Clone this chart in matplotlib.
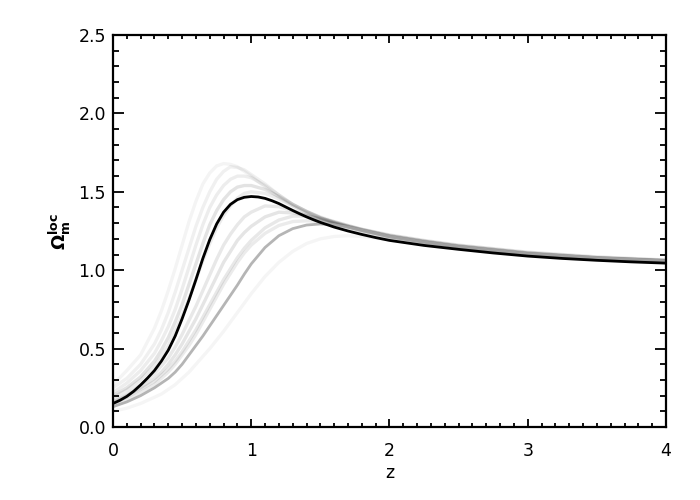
import matplotlib
matplotlib.use("Agg")
import matplotlib.pyplot as plt
from matplotlib.ticker import MultipleLocator

plt.rcParams['font.family'] = ['DejaVu Sans']
plt.rcParams['mathtext.fontset'] = 'dejavusans'

z = [0.0, 0.1, 0.2, 0.3, 0.35, 0.4, 0.45, 0.5, 0.55, 0.6, 0.65, 0.7, 0.75, 0.8, 0.85,
     0.9, 0.95, 1.0, 1.1, 1.2, 1.3, 1.4, 1.5, 1.6, 1.7, 1.8, 2.0, 2.25, 2.5, 3.0, 3.5, 4.0]

z_main = [0.0, 0.05, 0.1, 0.15, 0.2, 0.25, 0.3, 0.35, 0.4, 0.45, 0.5, 0.55, 0.6, 0.65,
          0.7, 0.75, 0.8, 0.85, 0.9, 0.95, 1.0, 1.05, 1.1, 1.15, 1.2, 1.25, 1.3, 1.35,
          1.4, 1.45, 1.5, 1.6, 1.7, 1.8, 1.9, 2.0, 2.25, 2.5, 2.75, 3.0, 3.25, 3.5,
          3.75, 4.0]
omega_main = [0.150, 0.170, 0.195, 0.228, 0.268, 0.312, 0.36, 0.42, 0.49, 0.58, 0.69,
              0.81, 0.94, 1.075, 1.195, 1.295, 1.37, 1.42, 1.45, 1.465, 1.47, 1.467,
              1.458, 1.443, 1.425, 1.403, 1.381, 1.36, 1.34, 1.322, 1.305, 1.275, 1.25,
              1.228, 1.208, 1.19, 1.158, 1.133, 1.11, 1.09, 1.075, 1.063, 1.053, 1.045]

omega_c1 = [0.27, 0.36, 0.46, 0.63, 0.74, 0.87, 1.01, 1.16, 1.31, 1.44, 1.55, 1.62,
            1.665, 1.68, 1.675, 1.66, 1.63, 1.60, 1.53, 1.465, 1.41, 1.37, 1.335, 1.305,
            1.28, 1.26, 1.225, 1.19, 1.16, 1.115, 1.085, 1.065]
omega_c2 = [0.25, 0.31, 0.40, 0.53, 0.62, 0.73, 0.86, 1.00, 1.14, 1.28, 1.40, 1.50,
            1.58, 1.63, 1.66, 1.655, 1.64, 1.61, 1.55, 1.48, 1.42, 1.375, 1.34, 1.31,
            1.285, 1.262, 1.225, 1.19, 1.16, 1.115, 1.085, 1.065]
omega_c3 = [0.22, 0.28, 0.36, 0.47, 0.55, 0.64, 0.75, 0.88, 1.02, 1.16, 1.29, 1.40,
            1.48, 1.54, 1.58, 1.60, 1.60, 1.59, 1.54, 1.48, 1.42, 1.375, 1.335, 1.305,
            1.28, 1.258, 1.22, 1.185, 1.155, 1.11, 1.08, 1.06]
omega_c4 = [0.20, 0.25, 0.32, 0.42, 0.49, 0.57, 0.67, 0.78, 0.91, 1.04, 1.17, 1.29,
            1.38, 1.45, 1.50, 1.53, 1.54, 1.54, 1.515, 1.47, 1.42, 1.375, 1.335, 1.305,
            1.28, 1.255, 1.215, 1.18, 1.15, 1.105, 1.078, 1.06]
omega_c5 = [0.19, 0.235, 0.30, 0.39, 0.45, 0.52, 0.61, 0.71, 0.82, 0.94, 1.06, 1.17,
            1.27, 1.35, 1.41, 1.46, 1.49, 1.50, 1.49, 1.455, 1.41, 1.365, 1.33, 1.30,
            1.275, 1.25, 1.21, 1.175, 1.145, 1.10, 1.075, 1.058]
omega_c6 = [0.17, 0.21, 0.27, 0.34, 0.39, 0.44, 0.51, 0.59, 0.68, 0.77, 0.87, 0.97,
            1.07, 1.16, 1.23, 1.29, 1.34, 1.37, 1.41, 1.405, 1.38, 1.35, 1.32, 1.295,
            1.27, 1.25, 1.21, 1.175, 1.145, 1.10, 1.075, 1.058]
omega_c7 = [0.16, 0.20, 0.25, 0.31, 0.35, 0.40, 0.46, 0.53, 0.61, 0.69, 0.78, 0.87,
            0.96, 1.05, 1.12, 1.19, 1.24, 1.28, 1.34, 1.37, 1.365, 1.35, 1.325, 1.30,
            1.275, 1.255, 1.215, 1.18, 1.15, 1.105, 1.078, 1.06]
omega_c8 = [0.15, 0.19, 0.24, 0.29, 0.33, 0.37, 0.42, 0.48, 0.55, 0.62, 0.70, 0.78,
            0.86, 0.94, 1.01, 1.08, 1.14, 1.19, 1.27, 1.32, 1.345, 1.345, 1.33, 1.31,
            1.285, 1.26, 1.22, 1.185, 1.155, 1.11, 1.08, 1.063]
omega_c9 = [0.13, 0.16, 0.20, 0.25, 0.28, 0.31, 0.35, 0.40, 0.46, 0.52, 0.58, 0.645,
            0.71, 0.775, 0.84, 0.905, 0.975, 1.04, 1.145, 1.22, 1.265, 1.288, 1.295, 1.29,
            1.275, 1.255, 1.215, 1.18, 1.15, 1.105, 1.08, 1.06]
omega_c10 = [0.10, 0.12, 0.15, 0.19, 0.21, 0.24, 0.27, 0.31, 0.35, 0.40, 0.45, 0.50,
             0.555, 0.61, 0.67, 0.73, 0.79, 0.85, 0.96, 1.05, 1.12, 1.17, 1.20, 1.215,
             1.22, 1.215, 1.195, 1.165, 1.14, 1.10, 1.075, 1.058]
omega_c11 = [0.13, 0.17, 0.22, 0.27, 0.31, 0.35, 0.40, 0.46, 0.52, 0.59, 0.67, 0.75,
             0.83, 0.91, 0.98, 1.05, 1.11, 1.16, 1.235, 1.285, 1.31, 1.315, 1.31, 1.30,
             1.28, 1.26, 1.22, 1.185, 1.155, 1.11, 1.08, 1.063]

grey_series = [omega_c1, omega_c2, omega_c3, omega_c4, omega_c5, omega_c6,
               omega_c7, omega_c8, omega_c10, omega_c11]
grey_alphas = [0.045, 0.06, 0.07, 0.11, 0.08, 0.09, 0.10, 0.09, 0.04, 0.08]

xticks = [0, 1, 2, 3, 4]
xticklabels = ['0', '1', '2', '3', '4']
yticks = [0.0, 0.5, 1.0, 1.5, 2.0, 2.5]
yticklabels = ['0.0', '0.5', '1.0', '1.5', '2.0', '2.5']

fig = plt.figure(figsize=(7, 5), dpi=100)
ax = fig.add_axes([0.1614, 0.146, 0.79, 0.784])

for vals, a in zip(grey_series, grey_alphas):
    ax.plot(z, vals, color='black', alpha=a, lw=2.4)
ax.plot(z, omega_c9, color='#a8a8a8', alpha=0.85, lw=2.0)
ax.plot(z_main, omega_main, color='black', lw=2.0)

ax.set_xlim(0, 4)
ax.set_ylim(0, 2.5)
ax.set_xticks(xticks)
ax.set_xticklabels(xticklabels)
ax.set_yticks(yticks)
ax.set_yticklabels(yticklabels)
ax.xaxis.set_minor_locator(MultipleLocator(0.1))
ax.yaxis.set_minor_locator(MultipleLocator(0.1))
ax.tick_params(which='both', direction='in', top=True, right=True, width=1.3,
               labelsize=12.5, color='black')
ax.tick_params(axis='x', which='major', length=6, pad=11)
ax.tick_params(axis='x', which='minor', length=3)
ax.tick_params(axis='y', which='major', length=8, pad=5)
ax.tick_params(axis='y', which='minor', length=4.3)
for s in ax.spines.values():
    s.set_linewidth(1.6)

ax.set_xlabel('z', fontsize=12.5, labelpad=3)
ax.set_ylabel(r'$\mathbf{\Omega_{m}^{loc}}$', fontsize=13, labelpad=4)

fig.savefig('out.png', dpi=100)
